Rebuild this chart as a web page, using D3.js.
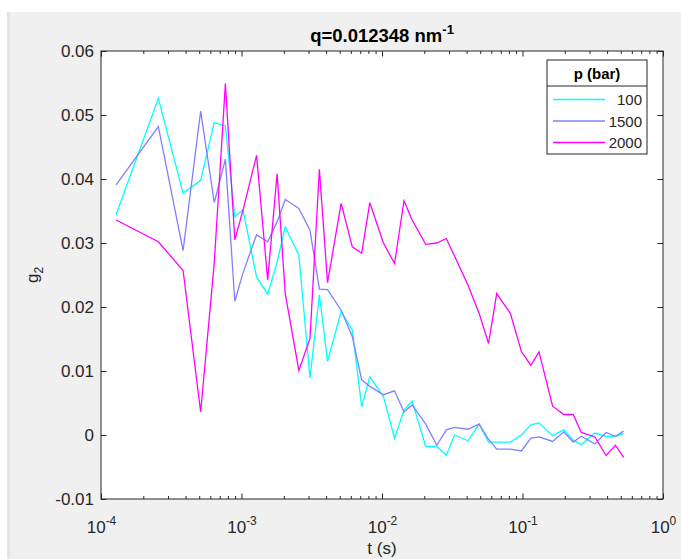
<!DOCTYPE html>
<html lang="en">
<head>
<meta charset="UTF-8">
<style>
body { margin: 0; background: #fff; }
svg text { font-family: "Liberation Sans", Arial, sans-serif; fill: #262626; }
</style>
<script src="https://cdn.jsdelivr.net/npm/d3@7"></script>
</head>
<body>
<svg id="fig" width="681" height="559"></svg>
<script>
// lag times (s), multi-tau spacing
const tau = [0.000128, 0.000256, 0.000384, 0.000512, 0.00064, 0.000768, 0.000896, 0.001024,
  0.00128, 0.001536, 0.001792, 0.002048, 0.00256, 0.003072, 0.003584, 0.004096,
  0.00512, 0.006144, 0.007168, 0.008192, 0.01024, 0.012288, 0.014336, 0.016384,
  0.02048, 0.024576, 0.028672, 0.032768, 0.04096, 0.049152, 0.057344, 0.065536,
  0.08192, 0.098304, 0.114688, 0.131072, 0.16384, 0.196608, 0.229376, 0.262144,
  0.32768, 0.393216, 0.458752, 0.524288];

const g2_100 = [0.0344, 0.0526, 0.0378, 0.0398, 0.0488, 0.0483, 0.0341, 0.0352,
  0.0247, 0.0220, 0.0270, 0.0325, 0.0281, 0.0089, 0.0219, 0.0115,
  0.0193, 0.0164, 0.0044, 0.0091, 0.0060, -0.0005, 0.0039, 0.0053,
  -0.0018, -0.0018, -0.0032, 0.0000, -0.0009, 0.0017, -0.0011, -0.0011,
  -0.0011, 0.0000, 0.0016, 0.0019, -0.0001, 0.0008, -0.0008, -0.0015,
  0.0003, -0.0002, -0.0002, 0.0002];

const g2_1500 = [0.0391, 0.0482, 0.0288, 0.0506, 0.0363, 0.0431, 0.0209, 0.0253,
  0.0313, 0.0302, 0.0333, 0.0368, 0.0354, 0.0320, 0.0228, 0.0227,
  0.0195, 0.0154, 0.0086, 0.0076, 0.0063, 0.0069, 0.0036, 0.0047,
  0.0017, -0.0016, 0.0008, 0.0012, 0.0009, 0.0017, -0.0007, -0.0022,
  -0.0022, -0.0025, -0.0005, -0.0003, -0.0010, 0.0005, -0.0011, -0.0002,
  -0.0014, 0.0004, -0.0002, 0.0006];

const g2_2000 = [0.0336, 0.0302, 0.0257, 0.0036, 0.0269, 0.0549, 0.0305, 0.0351,
  0.0437, 0.0242, 0.0408, 0.0221, 0.0101, 0.0151, 0.0415, 0.0238,
  0.0362, 0.0294, 0.0284, 0.0363, 0.0300, 0.0268, 0.0366, 0.0336,
  0.0298, 0.0300, 0.0307, 0.0280, 0.0234, 0.0190, 0.0143, 0.0221,
  0.0190, 0.0130, 0.0109, 0.0130, 0.0045, 0.0032, 0.0032, 0.0004,
  -0.0003, -0.0032, -0.0016, -0.0035];

const pressures = ["100", "1500", "2000"];
const colors = ["#00ffff", "#8080ff", "#ff00ff"];
const xDecades = [1e-4, 1e-3, 1e-2, 1e-1, 1];
const xExp = ["-4", "-3", "-2", "-1", "0"];
const yTicks = [-0.01, 0, 0.01, 0.02, 0.03, 0.04, 0.05, 0.06];

const box = { left: 101, right: 663, top: 51, bottom: 499 };
const axCol = "#262626";

const svg = d3.select("#fig");

// figure background
svg.append("rect").attr("x", 7).attr("y", 12).attr("width", 674).attr("height", 547).attr("fill", "#f0f0f0");
svg.append("rect").attr("x", 7).attr("y", 12).attr("width", 3).attr("height", 547).attr("fill", "#e4e4e4");

const x = d3.scaleLog().domain([1e-4, 1]).range([box.left, box.right]);
const y = d3.scaleLinear().domain([-0.01, 0.06]).range([box.bottom, box.top]);

svg.append("rect")
  .attr("x", box.left).attr("y", box.top)
  .attr("width", box.right - box.left).attr("height", box.bottom - box.top)
  .attr("fill", "#fff");

// series
const line = d3.line().x(d => x(d[0])).y(d => y(d[1]));
const series = [g2_100, g2_1500, g2_2000];
series.forEach((vals, i) => {
  svg.append("path")
    .datum(tau.map((t, j) => [t, vals[j]]))
    .attr("fill", "none")
    .attr("stroke", colors[i])
    .attr("stroke-width", 1.3)
    .attr("d", line);
});

// minor ticks for log axis
let minors = [];
xDecades.slice(0, -1).forEach(d => { for (let m = 2; m < 10; m++) minors.push(m * d); });

function styleAxis(g){
  g.select(".domain").remove();
  g.selectAll("line").attr("stroke", axCol).attr("stroke-width", 1);
}

svg.append("g").attr("transform", `translate(0,${box.bottom})`)
  .call(d3.axisBottom(x).tickValues(minors).tickSizeInner(-3).tickSizeOuter(0).tickFormat(""))
  .call(styleAxis);
svg.append("g").attr("transform", `translate(0,${box.top})`)
  .call(d3.axisTop(x).tickValues(minors).tickSizeInner(-3).tickSizeOuter(0).tickFormat(""))
  .call(styleAxis);
svg.append("g").attr("transform", `translate(0,${box.top})`)
  .call(d3.axisTop(x).tickValues(xDecades).tickSizeInner(-5.5).tickSizeOuter(0).tickFormat(""))
  .call(styleAxis);

const xb = svg.append("g").attr("transform", `translate(0,${box.bottom})`)
  .call(d3.axisBottom(x).tickValues(xDecades).tickSizeInner(-5.5).tickSizeOuter(0).tickFormat(""))
  .call(styleAxis);
xb.selectAll(".tick text").remove();
xb.selectAll(".tick").each(function(d, i){
  const t = d3.select(this).append("text")
    .attr("y", 34).attr("text-anchor", "middle")
    .style("font-size", "17px");
  t.append("tspan").text("10");
  t.append("tspan").attr("dy", -8).style("font-size", "12px").text(xExp[i]);
});

const yFmt = d => d === 0 ? "0" : d.toFixed(2);
svg.append("g").attr("transform", `translate(${box.left},0)`)
  .call(d3.axisLeft(y).tickValues(yTicks).tickSizeInner(-5.5).tickSizeOuter(0).tickPadding(7).tickFormat(yFmt))
  .call(styleAxis)
  .call(g => g.selectAll("text").attr("fill", axCol).style("font-size", "17px").attr("font-family", null));
svg.append("g").attr("transform", `translate(${box.right},0)`)
  .call(d3.axisRight(y).tickValues(yTicks).tickSizeInner(-5.5).tickSizeOuter(0).tickFormat(""))
  .call(styleAxis);

// frame
svg.append("rect")
  .attr("x", box.left).attr("y", box.top)
  .attr("width", box.right - box.left).attr("height", box.bottom - box.top)
  .attr("fill", "none").attr("stroke", axCol).attr("stroke-width", 1);

// title
const title = svg.append("text")
  .attr("x", (box.left + box.right) / 2).attr("y", 42)
  .attr("text-anchor", "middle")
  .style("font-size", "18.5px").style("font-weight", "bold").style("fill", "#000");
title.append("tspan").text("q=0.012348 nm");
title.append("tspan").attr("dy", -8).style("font-size", "13px").text("-1");

// axis labels
svg.append("text")
  .attr("x", (box.left + box.right) / 2).attr("y", 554)
  .attr("text-anchor", "middle").style("font-size", "17px")
  .text("t (s)");

const yl = svg.append("text")
  .attr("transform", `translate(38,${(box.top + box.bottom) / 2}) rotate(-90)`)
  .attr("text-anchor", "middle").style("font-size", "17px");
yl.append("tspan").text("g");
yl.append("tspan").attr("dy", 5).style("font-size", "12px").text("2");

// legend
const leg = svg.append("g").attr("transform", "translate(547,60)");
leg.append("rect").attr("width", 100).attr("height", 94)
  .attr("fill", "#fff").attr("stroke", axCol).attr("stroke-width", 1);
leg.append("line").attr("x1", 0).attr("x2", 100).attr("y1", 26).attr("y2", 26)
  .attr("stroke", axCol).attr("stroke-width", 1);
leg.append("text").attr("x", 50).attr("y", 19).attr("text-anchor", "middle")
  .style("font-size", "15px").style("font-weight", "bold").style("fill", "#000")
  .text("p (bar)");
pressures.forEach((p, i) => {
  const yy = 39.5 + i * 21.5;
  leg.append("line").attr("x1", 6).attr("x2", 58).attr("y1", yy).attr("y2", yy)
    .attr("stroke", colors[i]).attr("stroke-width", 1.3);
  leg.append("text").attr("x", 95).attr("y", yy + 5.5).attr("text-anchor", "end")
    .style("font-size", "15px").text(p);
});
</script>
</body>
</html>
